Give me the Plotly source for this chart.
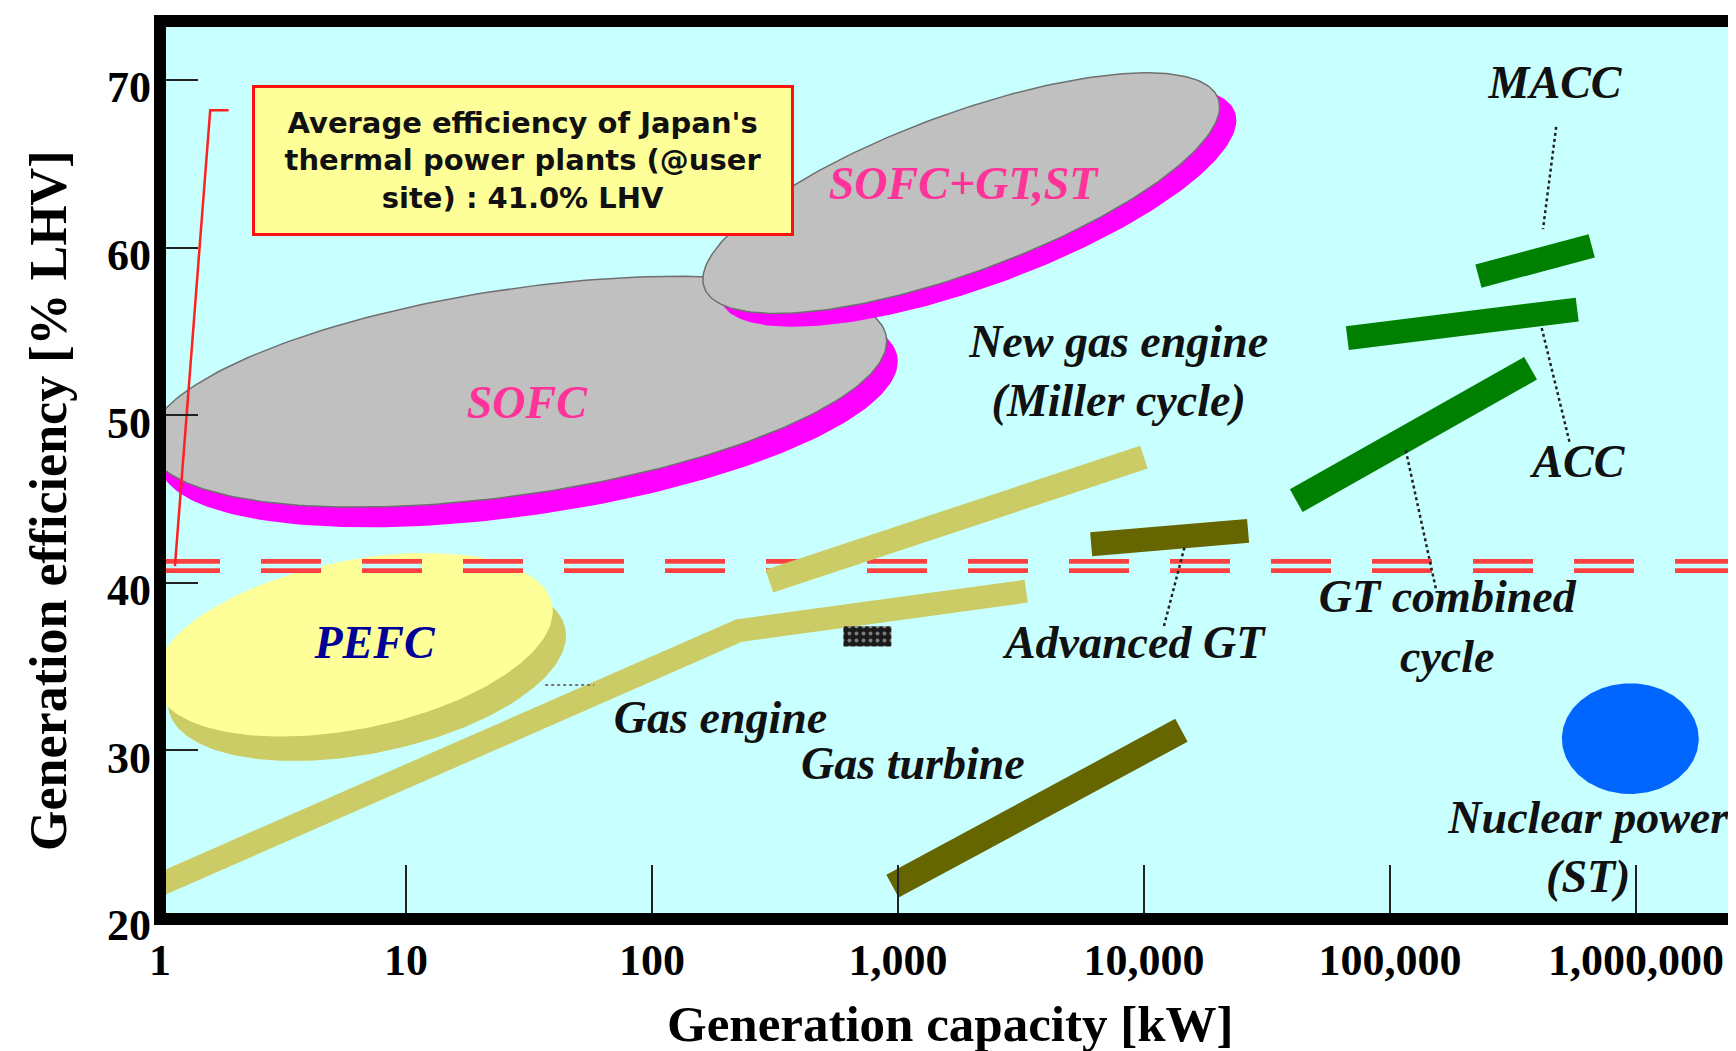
import math
import numpy as np
import plotly.graph_objects as go

# ---------------- data (capacity in kW, efficiency in % LHV) ----------------
# Elliptical technology regions: ends of the long axis + half height (in % points)
REGION_NAMES = ["SOFC", "SOFC+GT,ST", "PEFC", "Nuclear power (ST)"]
REGION_LEFT_KW = [0.9, 161, 0.95, 500000]
REGION_LEFT_EFF = [48.4, 58.1, 34.3, 30.7]
REGION_RIGHT_KW = [900, 20300, 39.5, 1800000]
REGION_RIGHT_EFF = [54.4, 68.4, 38.3, 30.7]
REGION_HALF_EFF = [6.2, 5.0, 5.1, 3.3]

# Technologies drawn as thick bands
GAS_ENGINE_KW = [1, 226, 3320]
GAS_ENGINE_EFF = [22.0, 37.15, 39.5]
NEW_GAS_ENGINE_KW = [300, 10000]
NEW_GAS_ENGINE_EFF = [40.1, 47.5]
GAS_TURBINE_KW = [950, 14200]
GAS_TURBINE_EFF = [21.9, 31.2]
ADVANCED_GT_KW = [6100, 26500]
ADVANCED_GT_EFF = [42.3, 43.1]
GTCC_KW = [41600, 373000]
GTCC_EFF = [44.9, 52.8]
ACC_KW = [67100, 577000]
ACC_EFF = [54.6, 56.3]
MACC_KW = [229000, 661000]
MACC_EFF = [58.3, 60.1]

SMALL_UNIT_KW = [600, 940]
SMALL_UNIT_EFF = [36.2, 37.4]

JAPAN_AVG_EFF = 41.0

X_TICK_VALUES = [1, 10, 100, 1000, 10000, 100000, 1000000]
X_TICK_LABELS = ["1", "10", "100", "1,000", "10,000", "100,000", "1,000,000"]
Y_TICK_VALUES = [20, 30, 40, 50, 60, 70]
Y_TICK_LABELS = ["20", "30", "40", "50", "60", "70"]

# ---------------- styling ----------------
BG = "#C8FFFF"
SERIF = "Liberation Serif"
SANS = "DejaVu Sans"

REGION_FILL = ["#C0C0C0", "#C0C0C0", "#FFFF99", "#0066FF"]
REGION_OUTLINE = ["#707070", "#707070", None, None]
REGION_SHADOW = ["#FF00FF", "#FF00FF", "#CCCC66", None]
SHADOW_SHIFT = [(0.045, -1.2), (0.068, -0.8), (0.054, -1.45), None]  # (decades, % pts)

fig = go.Figure()


def ellipse(lkw, leff, rkw, reff, half, dx=0.0, dy=0.0, n=240):
    lx0, lx1 = math.log10(lkw), math.log10(rkw)
    cx, cy = (lx0 + lx1) / 2 + dx, (leff + reff) / 2 + dy
    ux, uy = (lx1 - lx0) / 2, (reff - leff) / 2
    t = np.linspace(0, 2 * np.pi, n)
    xs = cx + ux * np.cos(t)
    ys = cy + uy * np.cos(t) + half * np.sin(t)
    return 10 ** xs, ys


for i, name in enumerate(REGION_NAMES):
    if REGION_SHADOW[i]:
        sx, sy = SHADOW_SHIFT[i]
        xs, ys = ellipse(REGION_LEFT_KW[i], REGION_LEFT_EFF[i], REGION_RIGHT_KW[i],
                         REGION_RIGHT_EFF[i], REGION_HALF_EFF[i], sx, sy)
        fig.add_trace(go.Scatter(x=xs, y=ys, fill="toself", fillcolor=REGION_SHADOW[i],
                                 mode="lines", line=dict(width=0, color=REGION_SHADOW[i]),
                                 hoverinfo="skip"))
    xs, ys = ellipse(REGION_LEFT_KW[i], REGION_LEFT_EFF[i], REGION_RIGHT_KW[i],
                     REGION_RIGHT_EFF[i], REGION_HALF_EFF[i])
    oc = REGION_OUTLINE[i]
    fig.add_trace(go.Scatter(x=xs, y=ys, fill="toself", fillcolor=REGION_FILL[i],
                             mode="lines",
                             line=dict(width=1.5 if oc else 0, color=oc or REGION_FILL[i]),
                             name=name, hoverinfo="name"))

# Average efficiency line (double red dashed)
xr = [1, 10 ** 6.6]
fig.add_trace(go.Scatter(x=xr, y=[JAPAN_AVG_EFF] * 2, mode="lines",
                         line=dict(color="#FF4040", width=14, dash="60px,41px"),
                         hoverinfo="skip"))
fig.add_trace(go.Scatter(x=xr, y=[JAPAN_AVG_EFF] * 2, mode="lines",
                         line=dict(color=BG, width=4.5, dash="60px,41px"),
                         hoverinfo="skip"))

# Thick bands
bands = [
    (GAS_ENGINE_KW, GAS_ENGINE_EFF, "#CCCC66", 23),
    (NEW_GAS_ENGINE_KW, NEW_GAS_ENGINE_EFF, "#CCCC66", 24),
    (GAS_TURBINE_KW, GAS_TURBINE_EFF, "#666600", 26),
    (ADVANCED_GT_KW, ADVANCED_GT_EFF, "#666600", 24),
    (GTCC_KW, GTCC_EFF, "#008000", 26),
    (ACC_KW, ACC_EFF, "#008000", 24),
    (MACC_KW, MACC_EFF, "#008000", 24),
]
for bx, by, col, w in bands:
    fig.add_trace(go.Scatter(x=bx, y=by, mode="lines", line=dict(color=col, width=w),
                             hoverinfo="skip"))

# Small unit box
fig.add_trace(go.Scatter(
    x=[SMALL_UNIT_KW[0], SMALL_UNIT_KW[1], SMALL_UNIT_KW[1], SMALL_UNIT_KW[0], SMALL_UNIT_KW[0]],
    y=[SMALL_UNIT_EFF[0], SMALL_UNIT_EFF[0], SMALL_UNIT_EFF[1], SMALL_UNIT_EFF[1], SMALL_UNIT_EFF[0]],
    mode="lines", fill="toself", fillcolor="#1a1a1a", line=dict(width=0, color="#1a1a1a"),
    fillpattern=dict(shape=".", bgcolor="#1a1a1a", fgcolor="#dddddd", size=7, solidity=0.25),
    hoverinfo="skip"))

# Leader lines (dotted)
leaders = [
    ([474000, 419000], [67.2, 61.1]),
    ([414000, 537000], [55.2, 48.4]),
    ([116000, 155000], [47.9, 39.4]),
    ([14600, 12000], [42.1, 37.3]),
]
for lx, ly in leaders:
    fig.add_trace(go.Scatter(x=lx, y=ly, mode="lines",
                             line=dict(color="#222222", width=2.5, dash="dot"),
                             hoverinfo="skip"))
fig.add_trace(go.Scatter(x=[36.8, 58.2], y=[33.9, 33.9], mode="lines",
                         line=dict(color="#777777", width=2, dash="dot"), hoverinfo="skip"))

# Red bracket to the note box
fig.add_trace(go.Scatter(x=[1.9, 1.6, 1.15], y=[68.2, 68.2, JAPAN_AVG_EFF], mode="lines",
                         line=dict(color="#FF2020", width=2.5), hoverinfo="skip"))

# Labels
labels = [
    ("SOFC", 31, 50.5, "#FF3399"),
    ("SOFC+GT,ST", 1840, 63.6, "#FF3399"),
    ("PEFC", 7.45, 36.2, "#000099"),
    ("New gas engine<br>(Miller cycle)", 7890, 52.4, "#111111"),
    ("Gas engine", 190, 31.7, "#111111"),
    ("Gas turbine", 1150, 29.0, "#111111"),
    ("Advanced GT", 9160, 36.2, "#111111"),
    ("GT combined<br>cycle", 171000, 37.15, "#111111"),
    ("MACC", 469000, 69.6, "#111111"),
    ("ACC", 583000, 47.0, "#111111"),
    ("Nuclear power<br>(ST)", 640000, 24.0, "#111111"),
]
for txt, lx, ly, col in labels:
    t = "<br>".join("<b><i>%s</i></b>" % p for p in txt.split("<br>"))
    fig.add_trace(go.Scatter(x=[lx], y=[ly], mode="text", text=[t],
                             textposition="middle center",
                             textfont=dict(family=SERIF, size=46, color=col),
                             hoverinfo="skip"))

fig.add_annotation(
    xref="x", yref="y", x=math.log10(2.36), y=69.7, xanchor="left", yanchor="top",
    text="<b>Average efficiency of Japan's</b><br><b>thermal power plants (@user</b><br><b>site) : 41.0% LHV</b>",
    showarrow=False, align="center", width=512, height=121,
    font=dict(family=SANS, size=29, color="#111111"),
    bgcolor="#FFFF99", bordercolor="#FF1010", borderwidth=3, borderpad=12)

# Axis titles
fig.add_annotation(xref="paper", yref="paper", x=0.5, y=-0.117, xanchor="center",
                   yanchor="middle", showarrow=False,
                   text="<b>Generation capacity [kW]</b>",
                   font=dict(family=SERIF, size=51, color="black"))
fig.add_annotation(xref="paper", yref="paper", x=-0.0703, y=0.4655, xanchor="center",
                   yanchor="middle", showarrow=False, textangle=-90,
                   text="<b>Generation efficiency [% LHV]</b>",
                   font=dict(family=SERIF, size=52, color="black"))

# Frame
fig.add_shape(type="rect", xref="paper", yref="paper", x0=0, x1=1, y0=0, y1=1,
              line=dict(color="black", width=12), layer="above")

fig.update_layout(
    width=1736, height=1051,
    margin=dict(l=152, r=4, t=13, b=140),
    plot_bgcolor=BG, paper_bgcolor="white", showlegend=False,
    xaxis=dict(type="log", range=[0, 6.423], tickvals=X_TICK_VALUES,
               ticktext=["<b>%s</b>" % s for s in X_TICK_LABELS],
               ticks="inside", ticklen=54, tickwidth=1.6, tickcolor="#222222",
               ticklabelstandoff=11,
               showgrid=False, zeroline=False, showline=False,
               tickfont=dict(family=SERIF, size=44, color="black")),
    yaxis=dict(range=[19.94, 73.52], tickvals=Y_TICK_VALUES,
               ticktext=["<b>%s</b>" % s for s in Y_TICK_LABELS],
               ticks="inside", ticklen=38, tickwidth=1.6, tickcolor="#222222",
               ticklabelstandoff=8, ticklabelshift=7,
               showgrid=False, zeroline=False, showline=False,
               tickfont=dict(family=SERIF, size=44, color="black")),
)

fig.write_html("out.html")
